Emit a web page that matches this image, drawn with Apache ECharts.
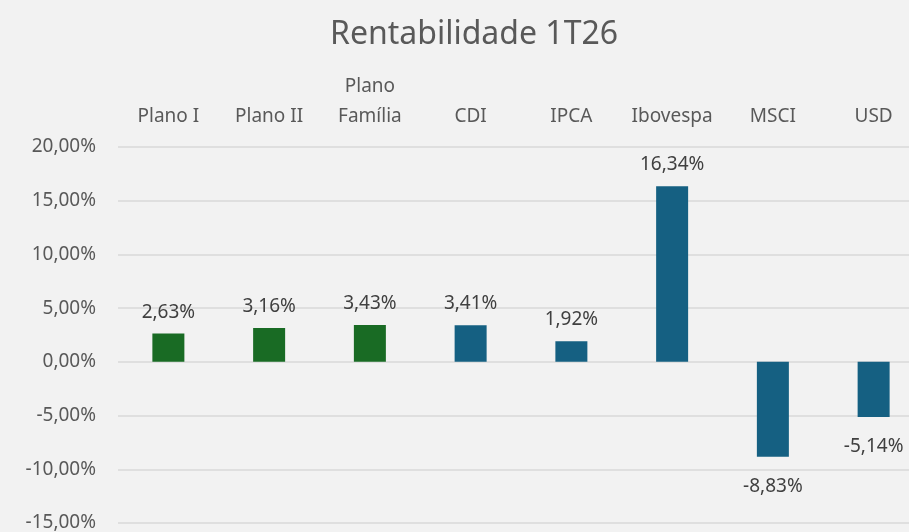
<html>
    <head>
        <meta charset="utf-8">
        <script src="https://cdn.jsdelivr.net/npm/echarts@6/dist/echarts.min.js"></script>
    </head>
    <body style="margin:0;background:#f2f2f2;">
        <div id="main" style="width:909px;height:532px;"></div>
        <script>
            var categories = ['Plano I', 'Plano II', 'Plano\nFamília', 'CDI', 'IPCA', 'Ibovespa', 'MSCI', 'USD'];
            var values = [2.63, 3.16, 3.43, 3.41, 1.92, 16.34, -8.83, -5.14];
            var barColors = ['#196B24', '#196B24', '#196B24', '#156082', '#156082', '#156082', '#156082', '#156082'];
            var yTicks = { min: -15, max: 20, interval: 5 };

            var FONT = 'Noto Sans';
            var GREY = '#595959';

            function pct(v) {
                return v.toFixed(2).replace('.', ',') + '%';
            }

            var chart = echarts.init(document.getElementById('main'), null, { renderer: 'canvas' });

            chart.setOption({
                backgroundColor: '#f2f2f2',
                animation: false,
                title: {
                    text: 'Rentabilidade 1T26',
                    left: 325,
                    top: 14,
                    textStyle: { fontFamily: FONT, fontSize: 32, fontWeight: 'normal', color: GREY }
                },
                // plot runs past the right edge, the last column is cut off
                grid: { left: 118, width: 806, top: 147, bottom: 9, outerBoundsMode: 'none' },
                xAxis: {
                    type: 'category',
                    position: 'top',
                    data: categories,
                    axisLine: { show: false },
                    axisTick: { show: false },
                    axisLabel: {
                        interval: 0,
                        margin: 15,
                        fontFamily: FONT,
                        fontSize: 19,
                        color: GREY,
                        lineHeight: 30
                    }
                },
                yAxis: {
                    type: 'value',
                    min: yTicks.min,
                    max: yTicks.max,
                    interval: yTicks.interval,
                    axisLine: { show: false },
                    axisTick: { show: false },
                    splitLine: { lineStyle: { color: '#d9d9d9', width: 1.5 } },
                    axisLabel: {
                        margin: 22,
                        fontFamily: FONT,
                        fontSize: 19,
                        color: GREY,
                        formatter: pct
                    }
                },
                series: [{
                    type: 'bar',
                    barWidth: 32,
                    data: values.map(function (v, i) {
                        return {
                            value: v,
                            itemStyle: { color: barColors[i] },
                            label: v < 0 ? { position: 'bottom', distance: 20 } : { position: 'top', distance: 12 }
                        };
                    }),
                    label: {
                        show: true,
                        fontFamily: FONT,
                        fontSize: 19,
                        color: '#404040',
                        formatter: function (p) { return pct(p.value); }
                    }
                }]
            });
        </script>
    </body>
</html>
